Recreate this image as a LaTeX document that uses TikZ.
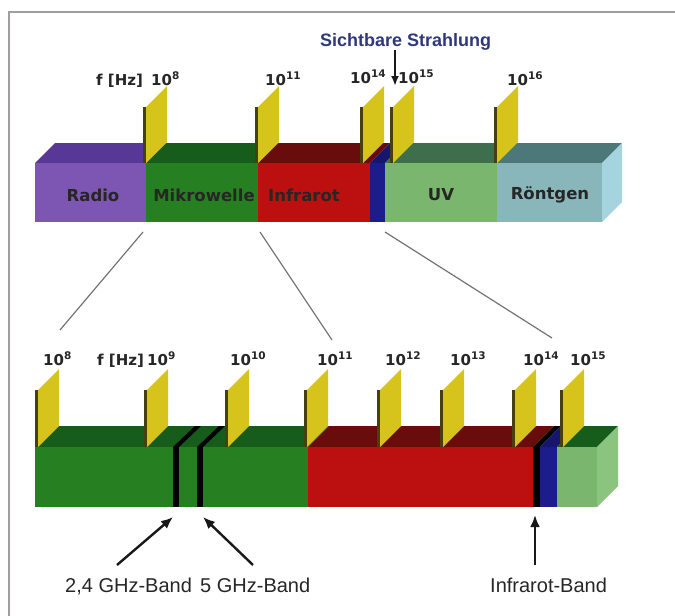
\documentclass[tikz,border=0pt]{standalone}
\usepackage{fontspec}
\setmainfont{Liberation Sans}
\newfontfamily\dejavu{DejaVu Sans}
\usetikzlibrary{arrows.meta}

\definecolor{radiofront}{RGB}{125,85,178}
\definecolor{radiotop}{RGB}{88,56,150}
\definecolor{mwfront}{RGB}{38,128,34}
\definecolor{mwtop}{RGB}{22,92,26}
\definecolor{irfront}{RGB}{188,16,16}
\definecolor{irtop}{RGB}{104,12,12}
\definecolor{visfront}{RGB}{28,28,140}
\definecolor{vistop}{RGB}{22,22,110}
\definecolor{uvfront}{RGB}{122,182,110}
\definecolor{uvtop}{RGB}{62,110,76}
\definecolor{uvside}{RGB}{138,196,126}
\definecolor{xrfront}{RGB}{136,182,186}
\definecolor{xrtop}{RGB}{76,120,122}
\definecolor{xrside}{RGB}{166,212,222}
\definecolor{plateyellow}{RGB}{214,196,28}
\definecolor{plateedge}{RGB}{70,64,16}
\definecolor{sichtblue}{RGB}{46,56,122}
\definecolor{framegray}{RGB}{160,156,160}

\begin{document}
\begin{tikzpicture}[x=1pt, y=-1pt,
    bandname/.style={font=\dejavu\bfseries\fontsize{16.5}{18}\selectfont, text=black!85},
    freq/.style={font=\dejavu\bfseries\fontsize{15}{17}\selectfont, anchor=base west, inner sep=0pt, text=black!85},
    caption/.style={font=\fontsize{20}{22}\selectfont, anchor=base west, inner sep=0pt, text=black!85},
    zoomline/.style={black!55, line width=1.2pt},
    pointer/.style={black!90, line width=2.4pt, -{Latex[length=12pt,width=10pt]}}]
    \useasboundingbox (0,0) rectangle (675,616);
    \draw[framegray, line width=2pt] (9,616) -- (9,12) -- (675,12);

    % upper bar: whole spectrum
    \foreach \xa/\xb/\cf/\ct in {35/146/radiofront/radiotop, 146/258/mwfront/mwtop,
        258/370/irfront/irtop, 370/385/visfront/vistop, 385/497/uvfront/uvtop, 497/602/xrfront/xrtop} {
        \fill[\ct] (\xa,163) -- (\xb,163) -- ({\xb+20},143) -- ({\xa+20},143) -- cycle;
        \fill[\cf] (\xa,163) rectangle (\xb,222);
    }
    \fill[xrside] (602,163) -- (622,143) -- (622,202) -- (602,222) -- cycle;
    \foreach \x in {146,258,363,393,497} {
        \fill[plateedge] ({\x-3},107) rectangle (\x,163);
        \fill[plateyellow] (\x,163) -- (\x,107) -- ({\x+21},86) -- ({\x+21},142) -- cycle;
    }
    \node[bandname] (radio) at (93,195) {Radio};
    \node[bandname] (mikro) at (204,195) {Mikrowelle};
    \node[bandname] (infra) at (304,195) {Infrarot};
    \node[bandname] (uv) at (441,195) {UV};
    \node[bandname] (roent) at (550,195) {Röntgen};

    \node[freq] (uhz) at (96,85) {f [Hz]};
    \node[freq] (u8) at (151,85) {10\textsuperscript{8}};
    \node[freq] (u11) at (265,85) {10\textsuperscript{11}};
    \node[freq] (u14) at (350,83) {10\textsuperscript{14}};
    \node[freq] (u15) at (398,83) {10\textsuperscript{15}};
    \node[freq] (u16) at (507,85) {10\textsuperscript{16}};

    \node[font=\bfseries\fontsize{18}{20}\selectfont, text=sichtblue, anchor=base west, inner sep=0pt] (sicht) at (320,46) {Sichtbare Strahlung};
    \coordinate (sichttip) at (395,86);
    \draw[pointer, line width=2pt, -{Latex[length=10pt,width=8pt]}] (sicht.south -| sichttip) -- (sichttip);

    % zoom lines
    \coordinate (z1a) at (143,232);
    \coordinate (z1b) at (60,330);
    \coordinate (z2a) at (260,232);
    \coordinate (z2b) at (332,340);
    \coordinate (z3a) at (385,232);
    \coordinate (z3b) at (552,338);
    \draw[zoomline] (z1a) -- (z1b);
    \draw[zoomline] (z2a) -- (z2b);
    \draw[zoomline] (z3a) -- (z3b);

    % lower bar: microwave to infrared
    \foreach \xa/\xb/\cf/\ct in {35/308/mwfront/mwtop, 308/533/irfront/irtop, 533/540/black/black,
        540/557/visfront/vistop, 557/597/uvfront/mwtop} {
        \fill[\ct] (\xa,447) -- (\xb,447) -- ({\xb+21},426) -- ({\xa+21},426) -- cycle;
        \fill[\cf] (\xa,447) rectangle (\xb,507);
    }
    \fill[uvside] (597,447) -- (618,426) -- (618,486) -- (597,507) -- cycle;
    \foreach \x in {173,197} {
        \fill[black] (\x,447) -- ({\x+6},447) -- ({\x+28},426) -- ({\x+22},426) -- cycle;
        \fill[black] (\x,447) rectangle ({\x+6},507);
    }
    \foreach \x in {38,147,228,307,380,443,515,563} {
        \fill[plateedge] ({\x-3},390) rectangle (\x,447);
        \fill[plateyellow] (\x,447) -- (\x,390) -- ({\x+21},369) -- ({\x+21},426) -- cycle;
    }

    \node[freq] (l8) at (43,365) {10\textsuperscript{8}};
    \node[freq] (lhz) at (97,365) {f [Hz]};
    \node[freq] (l9) at (147,365) {10\textsuperscript{9}};
    \node[freq] (l10) at (230,365) {10\textsuperscript{10}};
    \node[freq] (l11) at (317,365) {10\textsuperscript{11}};
    \node[freq] (l12) at (385,365) {10\textsuperscript{12}};
    \node[freq] (l13) at (450,365) {10\textsuperscript{13}};
    \node[freq] (l14) at (523,365) {10\textsuperscript{14}};
    \node[freq] (l15) at (570,365) {10\textsuperscript{15}};

    % band captions
    \node[caption] (band24) at (65,592) {2,4 GHz-Band};
    \node[caption] (band5) at (200,592) {5 GHz-Band};
    \node[caption] (bandir) at (490,592) {Infrarot-Band};
    \coordinate (a24) at (117,565);
    \coordinate (t24) at (173,517);
    \coordinate (a5) at (253,565);
    \coordinate (t5) at (203,517);
    \coordinate (air) at (535,565);
    \coordinate (tir) at (535,515);
    \draw[pointer] (a24) -- (t24);
    \draw[pointer] (a5) -- (t5);
    \draw[pointer] (air) -- (tir);
\end{tikzpicture}
\end{document}
